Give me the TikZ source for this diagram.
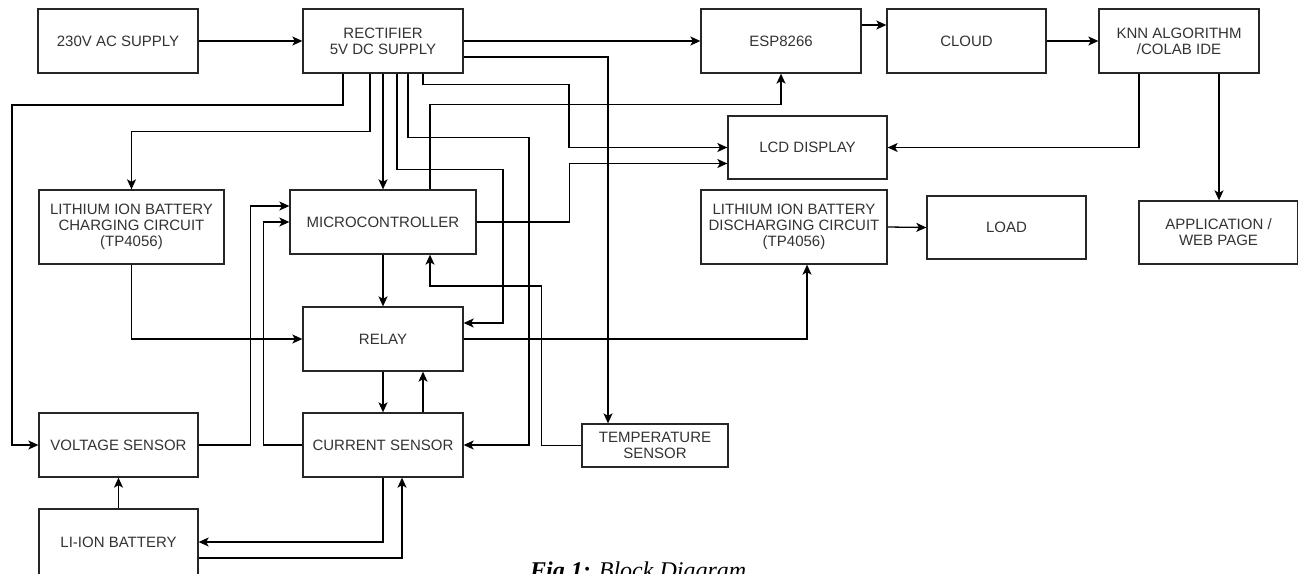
\documentclass[tikz,border=0pt]{standalone}
\usepackage{fontspec}
\setmainfont{Liberation Serif}
\newfontfamily\boxfont{Liberation Sans}
\usetikzlibrary{arrows.meta,calc}
\definecolor{txt}{HTML}{333333}
\begin{document}
\begin{tikzpicture}[x=1pt,y=-1pt,
  blk/.style={draw=black!85, line width=1.3pt, fill=white, align=center, inner sep=0pt,
    text=txt, font=\boxfont\fontsize{15}{16}\selectfont},
  arr/.style={draw=black, line width=1.3pt, -{Stealth[length=10pt,width=9pt,inset=2.5pt]}},
  ln/.style={draw=black, line width=1.3pt}]
\useasboundingbox (0,0) rectangle (1298,573);
% boxes
\node[blk, minimum width=160, minimum height=64] (ac) at (118,41) {230V AC SUPPLY};
\node[blk, minimum width=160, minimum height=64] (rect) at (383,41) {RECTIFIER\\5V DC SUPPLY};
\node[blk, minimum width=160, minimum height=64] (esp) at (781,41) {ESP8266};
\node[blk, minimum width=159, minimum height=64] (cloud) at (966.5,41) {CLOUD};
\node[blk, minimum width=160, minimum height=64] (knn) at (1179,41) {KNN ALGORITHM\\/COLAB IDE};
\node[blk, minimum width=159, minimum height=63] (lcd) at (807.5,147.5) {LCD DISPLAY};
\node[blk, minimum width=185, minimum height=74] (chg) at (131.5,227) {LITHIUM ION BATTERY\\CHARGING CIRCUIT\\(TP4056)};
\node[blk, minimum width=186, minimum height=64] (mcu) at (383,222) {MICROCONTROLLER};
\node[blk, minimum width=186, minimum height=74] (dis) at (794,227) {LITHIUM ION BATTERY\\DISCHARGING CIRCUIT\\(TP4056)};
\node[blk, minimum width=159, minimum height=63] (load) at (1006.5,227.5) {LOAD};
\node[blk, minimum width=159, minimum height=63] (app) at (1218.5,232.5) {APPLICATION /\\WEB PAGE};
\node[blk, minimum width=160, minimum height=64] (relay) at (383,339) {RELAY};
\node[blk, minimum width=159, minimum height=64] (vs) at (118.5,445) {VOLTAGE SENSOR};
\node[blk, minimum width=160, minimum height=64] (cs) at (383,445) {CURRENT SENSOR};
\node[blk, minimum width=146, minimum height=43] (temp) at (655,445.5) {TEMPERATURE\\SENSOR};
\node[blk, minimum width=159, minimum height=66] (bat) at (118.5,542) {LI-ION BATTERY};
% caption
\node[anchor=base west, inner sep=0pt, font=\fontsize{24}{26}\selectfont] (cap) at (530,578)
  {\textbf{\textit{Fig 1:}} \textit{Block Diagram}};
% connectors
\draw[arr] (ac) -- (rect);
\draw[arr] (rect) -- (esp);
\draw[arr] ([yshift=-16pt]rect.east) -| ([xshift=-47pt]temp.north);
\draw[arr] ([yshift=16pt]esp.east) -- ([yshift=16pt]cloud.west);
\draw[arr] (cloud) -- (knn);
\draw[arr] ([xshift=-40pt]knn.south) |- (lcd.east);
\draw[arr] ([xshift=40pt]knn.south) -- ([xshift=40pt]knn.south |- app.north);
\draw[arr] ([xshift=-40pt]rect.south) |- (12,105) |- (vs.west);
\draw[arr] ([xshift=-13pt]rect.south) -- ++(0,58) -| (chg.north);
\draw[arr] (rect.south) -- (mcu.north);
\draw[arr] ([xshift=14pt]rect.south) -- ++(0,96) -- ++(106,0) |- ([yshift=16pt]relay.east);
\draw[arr] ([xshift=25pt]rect.south) -- ++(0,64) -- ++(121,0) |- (cs.east);
\draw[arr] ([xshift=40pt]rect.south) -- ++(0,11) -- ++(146,0) |- (lcd.west);
\draw[arr] (mcu.east) -- ++(93,0) |- ([yshift=-16pt]lcd.west);
\draw[arr] ([xshift=47pt]mcu.north) -- ++(0,-85) -| (esp.south);
\draw[arr] (mcu.south) -- (relay.north);
\draw[arr] (temp.west) -- ++(-40,0) -- ++(0,-159.5) -| ([xshift=47pt]mcu.south);
\draw[arr] (chg.south) |- (relay.west);
\draw[arr] (relay.east) -| ([xshift=13pt]dis.south);
\draw[arr] (dis.east) -- (load.west);
\draw[arr] (relay.south) -- (cs.north);
\draw[arr] ([xshift=40pt]cs.north) -- ([xshift=40pt]relay.south);
\draw[arr] (vs.east) -- ++(52,0) |- ([yshift=16pt]mcu.west);
\draw[arr] (cs.west) -- ++(-39,0) |- (mcu.west);
\draw[arr] (bat.north) -- (vs.south);
\draw[arr] (cs.south) |- (bat.east);
\draw[arr] ([yshift=-16pt]bat.east) -| ([xshift=19pt]cs.south);
\end{tikzpicture}
\end{document}
